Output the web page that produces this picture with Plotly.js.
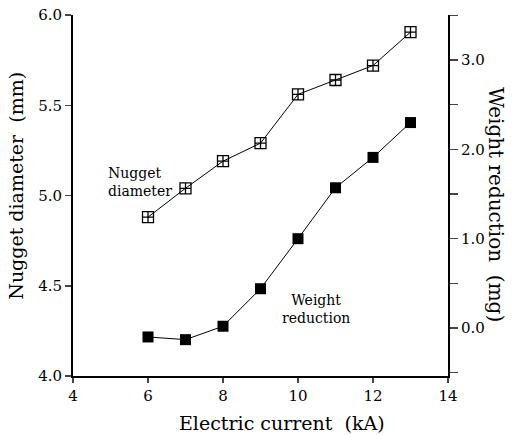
<!DOCTYPE html>
<html><head><meta charset="utf-8">
<script src="https://cdn.plot.ly/plotly-3.0.1.min.js"></script>
<style>body{margin:0;background:#fff}</style>
</head><body>
<div id="chart" style="width:512px;height:435px"></div>
<script>
const current = [6, 7, 8, 9, 10, 11, 12, 13];
const nuggetDiameter = [4.88, 5.04, 5.19, 5.29, 5.56, 5.64, 5.72, 5.905];
const weightReduction = [-0.10, -0.13, 0.02, 0.44, 1.00, 1.57, 1.91, 2.30];
const xTicks = [4, 6, 8, 10, 12, 14];
const leftTicks = [4.0, 4.5, 5.0, 5.5, 6.0];
const rightTickVals = [-0.5, 0.0, 0.5, 1.0, 1.5, 2.0, 2.5, 3.0, 3.5];
const rightTickText = ['', '0.0', '', '1.0', '', '2.0', '', '3.0', ''];

const font = 'DejaVu Serif';
const traces = [
  {x: current, y: nuggetDiameter, type: 'scatter', mode: 'lines+markers',
   line: {color: '#000', width: 1},
   marker: {symbol: 'square-cross-open', size: 11, color: '#000', line: {width: 1.3, color: '#000'}},
   yaxis: 'y'},
  {x: current, y: weightReduction, type: 'scatter', mode: 'lines+markers',
   line: {color: '#000', width: 1},
   marker: {symbol: 'square', size: 11, color: '#000'},
   yaxis: 'y2'}
];
const layout = {
  width: 512, height: 435,
  margin: {l: 73, r: 64, t: 15, b: 59},
  showlegend: false,
  paper_bgcolor: '#fff', plot_bgcolor: '#fff',
  font: {family: font, color: '#000', size: 15},
  xaxis: {range: [4, 14], tickvals: xTicks, ticktext: xTicks.map(String),
    showline: true, linecolor: '#000', linewidth: 2, ticks: 'outside', ticklen: 5, tickwidth: 1.5,
    showgrid: false, zeroline: false, tickfont: {size: 15, family: font}},
  yaxis: {range: [4.0, 6.0], tickvals: leftTicks, ticktext: leftTicks.map(v => v.toFixed(1)),
    showline: true, linecolor: '#000', linewidth: 2, ticks: 'outside', ticklen: 6, tickwidth: 1.5,
    showgrid: false, zeroline: false, tickfont: {size: 15, family: font}},
  yaxis2: {overlaying: 'y', side: 'right', range: [-0.537, 3.504],
    tickvals: rightTickVals, ticktext: rightTickText,
    showline: true, linecolor: '#000', linewidth: 2, ticks: 'outside', ticklen: 8, tickwidth: 1.5,
    showgrid: false, zeroline: false, tickfont: {size: 15, family: font}},
  annotations: [
    {text: 'Electric current\u00a0\u00a0(kA)', xref: 'paper', yref: 'paper', x: 0.557, y: -0.13,
     xanchor: 'center', yanchor: 'middle', showarrow: false, font: {size: 19, family: font}},
    {text: 'Nugget diameter\u00a0\u00a0(mm)', xref: 'paper', yref: 'paper', x: -0.153, y: 0.526,
     xanchor: 'center', yanchor: 'middle',
     textangle: -90, showarrow: false, font: {size: 19, family: font}},
    {text: 'Weight reduction\u00a0\u00a0(mg)', xref: 'paper', yref: 'paper', x: 1.127, y: 0.474,
     xanchor: 'center', yanchor: 'middle',
     textangle: 90, showarrow: false, font: {size: 20, family: font}},
    {text: 'Nugget<br>diameter', xref: 'x', yref: 'y', x: 4.88, y: 5.075, xanchor: 'left',
     align: 'left', showarrow: false, font: {size: 14, family: font}},
    {text: 'Weight<br>reduction', xref: 'x', yref: 'y2', x: 10.48, y: 0.21, xanchor: 'center',
     align: 'center', showarrow: false, font: {size: 14, family: font}}
  ]
};
Plotly.newPlot('chart', traces, layout, {displayModeBar: false, staticPlot: true});
</script>
</body></html>
